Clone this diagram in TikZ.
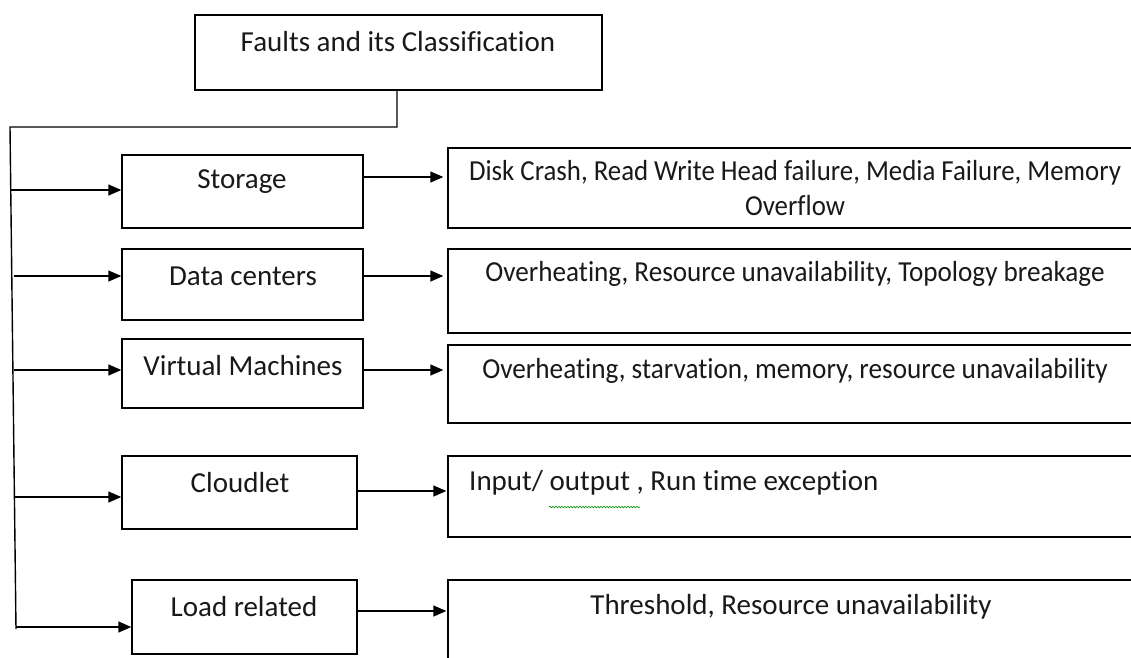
\documentclass[tikz,border=0pt]{standalone}
\usepackage{fontspec}
\setmainfont{Carlito}[Ligatures=NoCommon]
\usetikzlibrary{arrows.meta,decorations.pathmorphing}
\begin{document}
\begin{tikzpicture}[x=1pt,y=-1pt,
  box/.style={draw, line width=1.4pt, inner sep=0pt},
  arr/.style={-{Triangle[length=13pt,width=11pt]}, line width=1.4pt},
  ln/.style={line width=1.4pt},
  lbl/.style={font=\fontsize{29}{33}\selectfont, text=black!90, inner sep=0pt}]
\useasboundingbox (0,0) rectangle (1131,657);
\clip (0,0) rectangle (1131,657);
\fill[white] (0,0) rectangle (1131,657);
% boxes
\node[box, minimum width=407pt, minimum height=75pt] (top) at (398.5,52.5) {};
\node[box, minimum width=241pt, minimum height=73pt] (s) at (242.5,191.5) {};
\node[box, minimum width=697pt, minimum height=80pt] (sd) at (796.5,188) {};
\node[box, minimum width=241pt, minimum height=71pt] (d) at (242.5,284.5) {};
\node[box, minimum width=697pt, minimum height=84pt] (dd) at (796.5,291) {};
\node[box, minimum width=241pt, minimum height=69pt] (v) at (242.5,373.5) {};
\node[box, minimum width=697pt, minimum height=78pt] (vd) at (796.5,384) {};
\node[box, minimum width=235pt, minimum height=73pt] (c) at (239.5,492.5) {};
\node[box, minimum width=697pt, minimum height=81pt] (cd) at (796.5,496.5) {};
\node[box, minimum width=225pt, minimum height=74pt] (l) at (244.5,617) {};
\node[box, minimum width=697pt, minimum height=100pt] (ld) at (796.5,630) {};
% texts
\node[lbl] (ttop) at (398,42) {Faults and its Classification};
\node[lbl] (ts) at (242,182) {Storage};
\node[lbl] (td) at (243,276) {Data centers};
\node[lbl] (tv) at (243,366) {Virtual Machines};
\node[lbl] (tc) at (240,483) {Cloudlet};
\node[lbl] (tl) at (244,607) {Load related};
\node[lbl] (tsd1) at (795,173) {\scalebox{0.925}[1]{Disk Crash, Read Write Head failure, Media Failure, Memory}};
\node[lbl] (tsd2) at (795,206) {\scalebox{0.925}[1]{Overflow}};
\node[lbl] (tdd) at (795,274) {\scalebox{0.936}[1]{Overheating, Resource unavailability, Topology breakage}};
\node[lbl] (tvd) at (795,371) {\scalebox{0.938}[1]{Overheating, starvation, memory, resource unavailability}};
\node[lbl, anchor=west] (tcd) at (469,483) {Input/ output , Run time exception};
\node[lbl] (tld) at (791,607) {Threshold, Resource unavailability};
\coordinate (w1) at (549,507);
\coordinate (w2) at (640,507);
\draw[green!55!black, line width=0.6pt, decorate, decoration={snake, amplitude=0.8pt, segment length=3pt}] (w1) -- (w2);
% trunk
\coordinate (k0) at (397,127);
\coordinate (t0) at (10,127);
\coordinate (t1) at (16,629);
\draw[ln] (top.south -| k0) -- (k0) -- (t0) -- (t1);
% branches
\coordinate (b1) at (10.7,190);
\coordinate (b2) at (13.5,276);
\coordinate (b3) at (14,370);
\coordinate (b4) at (15,497);
\coordinate (b5) at (16,627);
\draw[arr] (b1) -- (b1 -| s.west);
\draw[arr] (b2) -- (b2 -| d.west);
\draw[arr] (b3) -- (b3 -| v.west);
\draw[arr] (b4) -- (b4 -| c.west);
\draw[arr] (b5) -- (b5 -| l.west);
% right arrows
\coordinate (r1) at (363,177);
\coordinate (r2) at (363,276);
\coordinate (r3) at (363,370);
\coordinate (r4) at (357,491);
\coordinate (r5) at (357,611);
\draw[arr, shorten >=4pt] (r1) -- (r1 -| sd.west);
\draw[arr, shorten >=4pt] (r2) -- (r2 -| dd.west);
\draw[arr, shorten >=4pt] (r3) -- (r3 -| vd.west);
\draw[arr, shorten >=1pt] (r4) -- (r4 -| cd.west);
\draw[arr, shorten >=1pt] (r5) -- (r5 -| ld.west);
\end{tikzpicture}
\end{document}
